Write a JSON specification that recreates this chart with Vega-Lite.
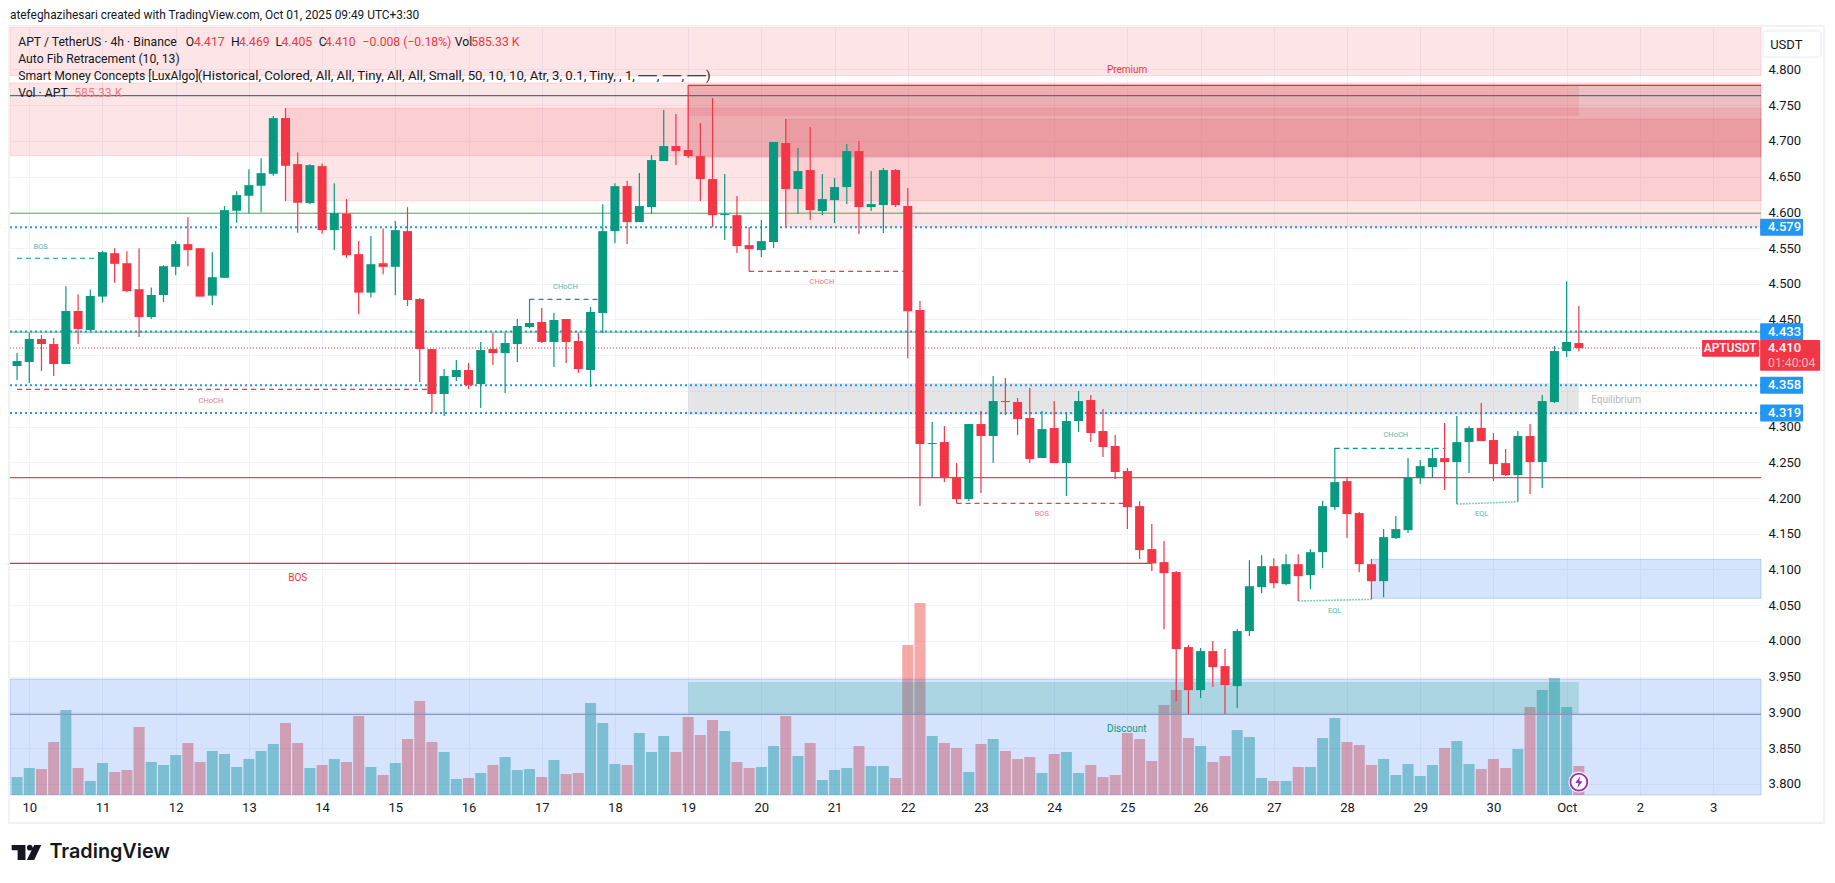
{
"$schema":"https://vega.github.io/schema/vega-lite/v6.json",
"width":1751,"height":768,
"autosize":{"type":"none"},
"padding":{"left":10,"top":27,"right":74,"bottom":88},
"background":"#ffffff",
"config":{"view":{"stroke":null},"scale":{"continuousPadding":0}},
"datasets":{
"candles":[
{"t":"2025-09-09T20:00Z","o":4.3848,"h":4.403,"l":4.3652,"c":4.3918,"v":363,"dir":"up"},
{"t":"2025-09-10T00:00Z","o":4.3904,"h":4.4311,"l":4.361,"c":4.4227,"v":545,"dir":"up"},
{"t":"2025-09-10T04:00Z","o":4.4227,"h":4.4283,"l":4.3778,"c":4.4156,"v":525,"dir":"down"},
{"t":"2025-09-10T08:00Z","o":4.4156,"h":4.4241,"l":4.3708,"c":4.3876,"v":1070,"dir":"down"},
{"t":"2025-09-10T12:00Z","o":4.3876,"h":4.4966,"l":4.3876,"c":4.4619,"v":1716,"dir":"up"},
{"t":"2025-09-10T16:00Z","o":4.4619,"h":4.4854,"l":4.4156,"c":4.4367,"v":545,"dir":"down"},
{"t":"2025-09-10T20:00Z","o":4.4353,"h":4.4919,"l":4.434,"c":4.4829,"v":283,"dir":"up"},
{"t":"2025-09-11T00:00Z","o":4.482,"h":4.5461,"l":4.4736,"c":4.5442,"v":646,"dir":"up"},
{"t":"2025-09-11T04:00Z","o":4.5428,"h":4.5498,"l":4.5013,"c":4.5279,"v":464,"dir":"down"},
{"t":"2025-09-11T08:00Z","o":4.5288,"h":4.5456,"l":4.4886,"c":4.4896,"v":505,"dir":"down"},
{"t":"2025-09-11T12:00Z","o":4.4924,"h":4.5498,"l":4.4255,"c":4.4535,"v":1373,"dir":"down"},
{"t":"2025-09-11T16:00Z","o":4.4535,"h":4.4947,"l":4.4507,"c":4.4843,"v":666,"dir":"up"},
{"t":"2025-09-11T20:00Z","o":4.4843,"h":4.526,"l":4.4745,"c":4.5246,"v":606,"dir":"up"},
{"t":"2025-09-12T00:00Z","o":4.5237,"h":4.5597,"l":4.512,"c":4.5555,"v":808,"dir":"up"},
{"t":"2025-09-12T04:00Z","o":4.5555,"h":4.5933,"l":4.5246,"c":4.5471,"v":1050,"dir":"down"},
{"t":"2025-09-12T08:00Z","o":4.5498,"h":4.5498,"l":4.482,"c":4.482,"v":666,"dir":"down"},
{"t":"2025-09-12T12:00Z","o":4.4834,"h":4.5442,"l":4.4703,"c":4.5092,"v":888,"dir":"up"},
{"t":"2025-09-12T16:00Z","o":4.5083,"h":4.6087,"l":4.5083,"c":4.6031,"v":828,"dir":"up"},
{"t":"2025-09-12T20:00Z","o":4.6022,"h":4.6297,"l":4.5853,"c":4.6241,"v":565,"dir":"up"},
{"t":"2025-09-13T00:00Z","o":4.6232,"h":4.6605,"l":4.5989,"c":4.6381,"v":727,"dir":"up"},
{"t":"2025-09-13T04:00Z","o":4.6372,"h":4.6759,"l":4.6003,"c":4.6549,"v":888,"dir":"up"},
{"t":"2025-09-13T08:00Z","o":4.654,"h":4.7348,"l":4.6512,"c":4.732,"v":1030,"dir":"up"},
{"t":"2025-09-13T12:00Z","o":4.732,"h":4.746,"l":4.6157,"c":4.6652,"v":1454,"dir":"down"},
{"t":"2025-09-13T16:00Z","o":4.6675,"h":4.6839,"l":4.5713,"c":4.6134,"v":1050,"dir":"down"},
{"t":"2025-09-13T20:00Z","o":4.6129,"h":4.6675,"l":4.6115,"c":4.6661,"v":545,"dir":"up"},
{"t":"2025-09-14T00:00Z","o":4.6647,"h":4.6685,"l":4.5699,"c":4.5751,"v":606,"dir":"down"},
{"t":"2025-09-14T04:00Z","o":4.5751,"h":4.6409,"l":4.5471,"c":4.5989,"v":727,"dir":"up"},
{"t":"2025-09-14T08:00Z","o":4.598,"h":4.6185,"l":4.5363,"c":4.54,"v":666,"dir":"down"},
{"t":"2025-09-14T12:00Z","o":4.5414,"h":4.5597,"l":4.4577,"c":4.4876,"v":1595,"dir":"down"},
{"t":"2025-09-14T16:00Z","o":4.4876,"h":4.5667,"l":4.4806,"c":4.5274,"v":565,"dir":"up"},
{"t":"2025-09-14T20:00Z","o":4.5288,"h":4.5774,"l":4.5134,"c":4.5237,"v":404,"dir":"down"},
{"t":"2025-09-15T00:00Z","o":4.5237,"h":4.5877,"l":4.484,"c":4.5751,"v":646,"dir":"up"},
{"t":"2025-09-15T04:00Z","o":4.5737,"h":4.6073,"l":4.4689,"c":4.4773,"v":1131,"dir":"down"},
{"t":"2025-09-15T08:00Z","o":4.4787,"h":4.48,"l":4.3624,"c":4.4086,"v":1898,"dir":"down"},
{"t":"2025-09-15T12:00Z","o":4.4086,"h":4.4086,"l":4.319,"c":4.3456,"v":1070,"dir":"down"},
{"t":"2025-09-15T16:00Z","o":4.3456,"h":4.3806,"l":4.3148,"c":4.3708,"v":868,"dir":"up"},
{"t":"2025-09-15T20:00Z","o":4.3694,"h":4.3932,"l":4.3638,"c":4.3792,"v":323,"dir":"up"},
{"t":"2025-09-16T00:00Z","o":4.3792,"h":4.389,"l":4.3526,"c":4.3582,"v":343,"dir":"down"},
{"t":"2025-09-16T04:00Z","o":4.3596,"h":4.4184,"l":4.326,"c":4.4072,"v":444,"dir":"up"},
{"t":"2025-09-16T08:00Z","o":4.4086,"h":4.4311,"l":4.3862,"c":4.403,"v":606,"dir":"down"},
{"t":"2025-09-16T12:00Z","o":4.403,"h":4.4311,"l":4.347,"c":4.417,"v":767,"dir":"up"},
{"t":"2025-09-16T16:00Z","o":4.4156,"h":4.4507,"l":4.3904,"c":4.4409,"v":505,"dir":"up"},
{"t":"2025-09-16T20:00Z","o":4.4395,"h":4.4787,"l":4.4381,"c":4.4451,"v":525,"dir":"up"},
{"t":"2025-09-17T00:00Z","o":4.4465,"h":4.4661,"l":4.417,"c":4.4185,"v":363,"dir":"down"},
{"t":"2025-09-17T04:00Z","o":4.4185,"h":4.4591,"l":4.3834,"c":4.4493,"v":707,"dir":"up"},
{"t":"2025-09-17T08:00Z","o":4.4507,"h":4.4507,"l":4.389,"c":4.4185,"v":424,"dir":"down"},
{"t":"2025-09-17T12:00Z","o":4.4199,"h":4.4311,"l":4.375,"c":4.3806,"v":444,"dir":"down"},
{"t":"2025-09-17T16:00Z","o":4.3792,"h":4.4675,"l":4.3554,"c":4.4605,"v":1857,"dir":"up"},
{"t":"2025-09-17T20:00Z","o":4.4591,"h":4.6115,"l":4.4311,"c":4.5737,"v":1454,"dir":"up"},
{"t":"2025-09-18T00:00Z","o":4.5737,"h":4.6409,"l":4.5568,"c":4.6367,"v":626,"dir":"up"},
{"t":"2025-09-18T04:00Z","o":4.6368,"h":4.6438,"l":4.5555,"c":4.5863,"v":606,"dir":"down"},
{"t":"2025-09-18T08:00Z","o":4.5863,"h":4.655,"l":4.5863,"c":4.6088,"v":1252,"dir":"up"},
{"t":"2025-09-18T12:00Z","o":4.6074,"h":4.6802,"l":4.598,"c":4.6732,"v":868,"dir":"up"},
{"t":"2025-09-18T16:00Z","o":4.6718,"h":4.7433,"l":4.6718,"c":4.6928,"v":1191,"dir":"up"},
{"t":"2025-09-18T20:00Z","o":4.6928,"h":4.7376,"l":4.6662,"c":4.6858,"v":868,"dir":"down"},
{"t":"2025-09-19T00:00Z","o":4.6872,"h":4.7778,"l":4.676,"c":4.6788,"v":1575,"dir":"down"},
{"t":"2025-09-19T04:00Z","o":4.6788,"h":4.725,"l":4.6158,"c":4.6466,"v":1211,"dir":"down"},
{"t":"2025-09-19T08:00Z","o":4.6466,"h":4.7601,"l":4.5793,"c":4.5961,"v":1514,"dir":"down"},
{"t":"2025-09-19T12:00Z","o":4.5961,"h":4.6536,"l":4.5611,"c":4.598,"v":1292,"dir":"up"},
{"t":"2025-09-19T16:00Z","o":4.5961,"h":4.6228,"l":4.5429,"c":4.5527,"v":666,"dir":"down"},
{"t":"2025-09-19T20:00Z","o":4.5541,"h":4.5793,"l":4.5172,"c":4.5485,"v":545,"dir":"down"},
{"t":"2025-09-20T00:00Z","o":4.5471,"h":4.5891,"l":4.5373,"c":4.5597,"v":565,"dir":"up"},
{"t":"2025-09-20T04:00Z","o":4.5583,"h":4.6984,"l":4.5499,"c":4.6984,"v":989,"dir":"up"},
{"t":"2025-09-20T08:00Z","o":4.697,"h":4.7306,"l":4.5793,"c":4.6326,"v":1595,"dir":"down"},
{"t":"2025-09-20T12:00Z","o":4.6326,"h":4.69,"l":4.598,"c":4.6578,"v":787,"dir":"up"},
{"t":"2025-09-20T16:00Z","o":4.6592,"h":4.7194,"l":4.5891,"c":4.6032,"v":1050,"dir":"down"},
{"t":"2025-09-20T20:00Z","o":4.6018,"h":4.6536,"l":4.5961,"c":4.6186,"v":303,"dir":"up"},
{"t":"2025-09-21T00:00Z","o":4.6172,"h":4.648,"l":4.5849,"c":4.6354,"v":505,"dir":"up"},
{"t":"2025-09-21T04:00Z","o":4.6354,"h":4.6956,"l":4.6116,"c":4.6858,"v":545,"dir":"up"},
{"t":"2025-09-21T08:00Z","o":4.6858,"h":4.6998,"l":4.5695,"c":4.6074,"v":989,"dir":"down"},
{"t":"2025-09-21T12:00Z","o":4.6074,"h":4.6578,"l":4.6018,"c":4.6116,"v":585,"dir":"up"},
{"t":"2025-09-21T16:00Z","o":4.6102,"h":4.662,"l":4.5709,"c":4.6592,"v":585,"dir":"up"},
{"t":"2025-09-21T20:00Z","o":4.6592,"h":4.6606,"l":4.6074,"c":4.6102,"v":343,"dir":"down"},
{"t":"2025-09-22T00:00Z","o":4.6088,"h":4.634,"l":4.3958,"c":4.4616,"v":3029,"dir":"down"},
{"t":"2025-09-22T04:00Z","o":4.4631,"h":4.4757,"l":4.1887,"c":4.2756,"v":3876,"dir":"down"},
{"t":"2025-09-22T08:00Z","o":4.2756,"h":4.3064,"l":4.2289,"c":4.277,"v":1191,"dir":"up"},
{"t":"2025-09-22T12:00Z","o":4.2784,"h":4.3008,"l":4.2224,"c":4.2289,"v":1050,"dir":"down"},
{"t":"2025-09-22T16:00Z","o":4.2289,"h":4.249,"l":4.1925,"c":4.1985,"v":949,"dir":"down"},
{"t":"2025-09-22T20:00Z","o":4.1985,"h":4.3036,"l":4.1957,"c":4.3036,"v":464,"dir":"up"},
{"t":"2025-09-23T00:00Z","o":4.3036,"h":4.3218,"l":4.2069,"c":4.2868,"v":1030,"dir":"down"},
{"t":"2025-09-23T04:00Z","o":4.2868,"h":4.3709,"l":4.249,"c":4.3358,"v":1131,"dir":"up"},
{"t":"2025-09-23T08:00Z","o":4.3358,"h":4.3681,"l":4.3162,"c":4.3344,"v":888,"dir":"down"},
{"t":"2025-09-23T12:00Z","o":4.3344,"h":4.34,"l":4.2882,"c":4.3106,"v":727,"dir":"down"},
{"t":"2025-09-23T16:00Z","o":4.312,"h":4.354,"l":4.249,"c":4.2546,"v":767,"dir":"down"},
{"t":"2025-09-23T20:00Z","o":4.256,"h":4.3218,"l":4.256,"c":4.2966,"v":444,"dir":"up"},
{"t":"2025-09-24T00:00Z","o":4.298,"h":4.3358,"l":4.249,"c":4.249,"v":828,"dir":"down"},
{"t":"2025-09-24T04:00Z","o":4.249,"h":4.319,"l":4.2027,"c":4.3078,"v":868,"dir":"up"},
{"t":"2025-09-24T08:00Z","o":4.3078,"h":4.3498,"l":4.2924,"c":4.3358,"v":444,"dir":"up"},
{"t":"2025-09-24T12:00Z","o":4.3372,"h":4.3442,"l":4.2784,"c":4.291,"v":606,"dir":"down"},
{"t":"2025-09-24T16:00Z","o":4.2938,"h":4.3246,"l":4.2574,"c":4.2714,"v":363,"dir":"down"},
{"t":"2025-09-24T20:00Z","o":4.2728,"h":4.2882,"l":4.2266,"c":4.2364,"v":404,"dir":"down"},
{"t":"2025-09-25T00:00Z","o":4.2378,"h":4.242,"l":4.1565,"c":4.1873,"v":1252,"dir":"down"},
{"t":"2025-09-25T04:00Z","o":4.1887,"h":4.1957,"l":4.1145,"c":4.1271,"v":1131,"dir":"down"},
{"t":"2025-09-25T08:00Z","o":4.1285,"h":4.1635,"l":4.0977,"c":4.1084,"v":686,"dir":"down"},
{"t":"2025-09-25T12:00Z","o":4.1103,"h":4.1397,"l":4.0164,"c":4.0949,"v":1817,"dir":"down"},
{"t":"2025-09-25T16:00Z","o":4.0963,"h":4.0977,"l":3.9157,"c":3.9885,"v":2120,"dir":"down"},
{"t":"2025-09-25T20:00Z","o":3.9913,"h":3.9941,"l":3.8975,"c":3.9311,"v":1151,"dir":"down"},
{"t":"2025-09-26T00:00Z","o":3.9311,"h":3.9899,"l":3.9199,"c":3.9857,"v":989,"dir":"up"},
{"t":"2025-09-26T04:00Z","o":3.9857,"h":3.9997,"l":3.9353,"c":3.9633,"v":666,"dir":"down"},
{"t":"2025-09-26T08:00Z","o":3.9647,"h":3.9885,"l":3.8975,"c":3.9381,"v":787,"dir":"down"},
{"t":"2025-09-26T12:00Z","o":3.9367,"h":4.0166,"l":3.9059,"c":4.0138,"v":1312,"dir":"up"},
{"t":"2025-09-26T16:00Z","o":4.0138,"h":4.113,"l":4.0068,"c":4.0766,"v":1171,"dir":"up"},
{"t":"2025-09-26T20:00Z","o":4.0752,"h":4.12,"l":4.0668,"c":4.1046,"v":343,"dir":"up"},
{"t":"2025-09-27T00:00Z","o":4.1046,"h":4.1158,"l":4.0738,"c":4.0808,"v":283,"dir":"down"},
{"t":"2025-09-27T04:00Z","o":4.0794,"h":4.1214,"l":4.078,"c":4.1074,"v":283,"dir":"up"},
{"t":"2025-09-27T08:00Z","o":4.1074,"h":4.1214,"l":4.0558,"c":4.0906,"v":565,"dir":"down"},
{"t":"2025-09-27T12:00Z","o":4.092,"h":4.1284,"l":4.0724,"c":4.1242,"v":565,"dir":"up"},
{"t":"2025-09-27T16:00Z","o":4.1242,"h":4.1957,"l":4.1018,"c":4.1887,"v":1151,"dir":"up"},
{"t":"2025-09-27T20:00Z","o":4.1873,"h":4.2699,"l":4.1831,"c":4.2223,"v":1555,"dir":"up"},
{"t":"2025-09-28T00:00Z","o":4.2237,"h":4.2279,"l":4.1439,"c":4.1775,"v":1070,"dir":"down"},
{"t":"2025-09-28T04:00Z","o":4.1789,"h":4.1803,"l":4.0962,"c":4.1074,"v":1010,"dir":"down"},
{"t":"2025-09-28T08:00Z","o":4.1074,"h":4.1144,"l":4.0581,"c":4.0836,"v":606,"dir":"down"},
{"t":"2025-09-28T12:00Z","o":4.0836,"h":4.1565,"l":4.0612,"c":4.1453,"v":727,"dir":"up"},
{"t":"2025-09-28T16:00Z","o":4.1439,"h":4.1747,"l":4.1425,"c":4.1565,"v":404,"dir":"up"},
{"t":"2025-09-28T20:00Z","o":4.1551,"h":4.2559,"l":4.1509,"c":4.2293,"v":626,"dir":"up"},
{"t":"2025-09-29T00:00Z","o":4.2279,"h":4.2531,"l":4.2195,"c":4.2447,"v":384,"dir":"up"},
{"t":"2025-09-29T04:00Z","o":4.2433,"h":4.2699,"l":4.2279,"c":4.2559,"v":606,"dir":"up"},
{"t":"2025-09-29T08:00Z","o":4.2559,"h":4.305,"l":4.2111,"c":4.2503,"v":949,"dir":"down"},
{"t":"2025-09-29T12:00Z","o":4.2503,"h":4.3148,"l":4.1915,"c":4.2783,"v":1090,"dir":"up"},
{"t":"2025-09-29T16:00Z","o":4.2783,"h":4.3008,"l":4.2349,"c":4.298,"v":626,"dir":"up"},
{"t":"2025-09-29T20:00Z","o":4.298,"h":4.333,"l":4.2798,"c":4.2798,"v":525,"dir":"down"},
{"t":"2025-09-30T00:00Z","o":4.2812,"h":4.291,"l":4.2237,"c":4.2475,"v":727,"dir":"down"},
{"t":"2025-09-30T04:00Z","o":4.2489,"h":4.2686,"l":4.2307,"c":4.2321,"v":545,"dir":"down"},
{"t":"2025-09-30T08:00Z","o":4.2321,"h":4.2938,"l":4.1948,"c":4.2868,"v":929,"dir":"up"},
{"t":"2025-09-30T12:00Z","o":4.2868,"h":4.3036,"l":4.2055,"c":4.2503,"v":1777,"dir":"down"},
{"t":"2025-09-30T16:00Z","o":4.2503,"h":4.3442,"l":4.2139,"c":4.3358,"v":2120,"dir":"up"},
{"t":"2025-09-30T20:00Z","o":4.3344,"h":4.4128,"l":4.333,"c":4.4058,"v":2362,"dir":"up"},
{"t":"2025-10-01T00:00Z","o":4.4058,"h":4.5036,"l":4.3974,"c":4.4185,"v":1777,"dir":"up"},
{"t":"2025-10-01T04:00Z","o":4.417,"h":4.469,"l":4.405,"c":4.41,"v":585.33,"dir":"down"}
],
"zones":[
{"t0":"2025-09-09T17:41Z","t1":"2025-10-03T15:43Z","p0":4.7913,"p1":4.8595,"zone":"premium"},
{"t0":"2025-09-09T17:41Z","t1":"2025-10-03T15:43Z","p0":4.6793,"p1":4.7811,"zone":"premium"},
{"t0":"2025-09-13T12:00Z","t1":"2025-10-03T15:43Z","p0":4.6163,"p1":4.7457,"zone":"premium"},
{"t0":"2025-09-20T08:00Z","t1":"2025-10-03T15:43Z","p0":4.5799,"p1":4.7303,"zone":"premium"},
{"t0":"2025-09-19T00:00Z","t1":"2025-10-03T15:43Z","p0":4.6773,"p1":4.7779,"zone":"breaker"},
{"t0":"2025-09-19T00:00Z","t1":"2025-10-01T04:00Z","p0":4.7349,"p1":4.7769,"zone":"swing"},
{"t0":"2025-09-19T00:00Z","t1":"2025-10-01T04:00Z","p0":4.3166,"p1":4.3606,"zone":"equilibrium"},
{"t0":"2025-09-09T17:41Z","t1":"2025-10-03T15:43Z","p0":3.7842,"p1":3.9465,"zone":"discount"},
{"t0":"2025-09-28T08:00Z","t1":"2025-10-03T15:43Z","p0":4.0596,"p1":4.1142,"zone":"discount"},
{"t0":"2025-09-19T00:00Z","t1":"2025-10-01T04:00Z","p0":3.8972,"p1":3.9424,"zone":"demand"}
],
"fibs":[
{"t0":"2025-09-09T17:41Z","t1":"2025-10-03T15:43Z","p":4.7633,"line":"fib618"},
{"t0":"2025-09-09T17:41Z","t1":"2025-10-03T15:43Z","p":4.5987,"line":"fib500"},
{"t0":"2025-09-09T17:41Z","t1":"2025-10-03T15:43Z","p":4.4323,"line":"fib382"},
{"t0":"2025-09-09T17:41Z","t1":"2025-10-03T15:43Z","p":4.2285,"line":"fib236"},
{"t0":"2025-09-09T17:41Z","t1":"2025-10-03T15:43Z","p":3.8972,"line":"fib0"},
{"t0":"2025-09-19T00:00Z","t1":"2025-10-03T15:43Z","p":4.7779,"line":"high"},
{"t0":"2025-09-09T17:41Z","t1":"2025-09-25T08:00Z","p":4.1086,"line":"high"}
],
"levels":[
{"t0":"2025-09-09T17:41Z","t1":"2025-10-03T15:43Z","p":4.579},
{"t0":"2025-09-09T17:41Z","t1":"2025-10-03T15:43Z","p":4.433},
{"t0":"2025-09-09T17:41Z","t1":"2025-10-03T15:43Z","p":4.358},
{"t0":"2025-09-09T17:41Z","t1":"2025-10-03T15:43Z","p":4.319}
],
"lastPrice":[{"t0":"2025-09-09T17:41Z","t1":"2025-10-03T15:43Z","p":4.41}],
"structure":[
{"t0":"2025-09-09T20:00Z","t1":"2025-09-10T22:00Z","p":4.5357,"dir":"up"},
{"t0":"2025-09-09T20:00Z","t1":"2025-09-15T12:00Z","p":4.3522,"dir":"down"},
{"t0":"2025-09-16T20:00Z","t1":"2025-09-17T20:00Z","p":4.4782,"dir":"up"},
{"t0":"2025-09-19T20:00Z","t1":"2025-09-22T00:00Z","p":4.5174,"dir":"down"},
{"t0":"2025-09-22T16:00Z","t1":"2025-09-25T00:00Z","p":4.1926,"dir":"down"},
{"t0":"2025-09-27T20:00Z","t1":"2025-09-29T08:00Z","p":4.2696,"dir":"up"}
],
"equalLows":[
{"t0":"2025-09-27T08:00Z","t1":"2025-09-28T08:00Z","p0":4.0558,"p1":4.0581},
{"t0":"2025-09-29T12:00Z","t1":"2025-09-30T08:00Z","p0":4.1915,"p1":4.1948}
],
"tags":[
{"t":"2025-09-10T03:44Z","p":4.5519,"label":"BOS","dir":"up"},
{"t":"2025-09-12T11:34Z","p":4.3354,"label":"CHoCH","dir":"down"},
{"t":"2025-09-17T07:46Z","p":4.495,"label":"CHoCH","dir":"up"},
{"t":"2025-09-20T19:52Z","p":4.502,"label":"CHoCH","dir":"down"},
{"t":"2025-09-23T19:56Z","p":4.1772,"label":"BOS","dir":"down"},
{"t":"2025-09-28T16:00Z","p":4.2878,"label":"CHoCH","dir":"up"},
{"t":"2025-09-27T19:56Z","p":4.0423,"label":"EQL","dir":"up"},
{"t":"2025-09-29T20:10Z","p":4.1779,"label":"EQL","dir":"up"}
],
"zoneLabels":[
{"t":"2025-09-13T16:00Z","p":4.0876,"label":"BOS","tone":"red"},
{"t":"2025-09-24T23:54Z","p":4.7993,"label":"Premium","tone":"red"},
{"t":"2025-10-01T16:12Z","p":4.3377,"label":"Equilibrium","tone":"grey"},
{"t":"2025-09-24T23:48Z","p":3.8771,"label":"Discount","tone":"teal"}
],
"header":[
{"t":"2025-09-09T17:40Z","p":4.8763,"label":"atefeghazihesari created with TradingView.com, Oct 01, 2025 09:49 UTC+3:30"}
],
"legend":[
{"t":"2025-09-09T20:22Z","p":4.8389,"label":"APT / TetherUS · 4h · Binance","tone":"ink"},
{"t":"2025-09-12T03:18Z","p":4.8389,"label":"O","tone":"ink"},
{"t":"2025-09-12T06:00Z","p":4.8389,"label":"4.417","tone":"down"},
{"t":"2025-09-12T18:08Z","p":4.8389,"label":"H","tone":"ink"},
{"t":"2025-09-12T20:45Z","p":4.8389,"label":"4.469","tone":"down"},
{"t":"2025-09-13T08:45Z","p":4.8389,"label":"L","tone":"ink"},
{"t":"2025-09-13T10:41Z","p":4.8389,"label":"4.405","tone":"down"},
{"t":"2025-09-13T22:53Z","p":4.8389,"label":"C","tone":"ink"},
{"t":"2025-09-14T00:57Z","p":4.8389,"label":"4.410","tone":"down"},
{"t":"2025-09-14T13:17Z","p":4.8389,"label":"−0.008 (−0.18%)","tone":"down"},
{"t":"2025-09-15T19:28Z","p":4.8389,"label":"Vol","tone":"ink"},
{"t":"2025-09-16T00:55Z","p":4.8389,"label":"585.33 K","tone":"down"},
{"t":"2025-09-09T20:22Z","p":4.8147,"label":"Auto Fib Retracement (10, 13)","tone":"ink"},
{"t":"2025-09-09T20:22Z","p":4.7909,"label":"Smart Money Concepts [LuxAlgo]","tone":"ink"},
{"t":"2025-09-09T20:22Z","p":4.7675,"label":"Vol · APT","tone":"ink"},
{"t":"2025-09-10T14:45Z","p":4.7675,"label":"585.33 K","tone":"soft"}
],
"inputs":[
{"t":"2025-09-12T07:15Z","p":4.7909,"label":"(Historical, Colored, All, All, Tiny, All, All, Small, 50, 10, 10, Atr, 3, 0.1, Tiny, , 1, ──, ──, ──)"}
],
"badges":[
{"t0":"2025-10-03T15:26Z","t1":"2025-10-04T05:31Z","lo":4.5671,"hi":4.5909,"kind":"level"},
{"t0":"2025-10-03T15:26Z","t1":"2025-10-04T05:31Z","lo":4.421,"hi":4.4448,"kind":"level"},
{"t0":"2025-10-03T15:26Z","t1":"2025-10-04T05:31Z","lo":4.3461,"hi":4.3699,"kind":"level"},
{"t0":"2025-10-03T15:26Z","t1":"2025-10-04T05:31Z","lo":4.3071,"hi":4.3309,"kind":"level"},
{"t0":"2025-10-03T15:26Z","t1":"2025-10-04T11:06Z","lo":4.3783,"hi":4.4213,"kind":"last"},
{"t0":"2025-10-02T20:24Z","t1":"2025-10-03T15:06Z","lo":4.3979,"hi":4.4213,"kind":"last"}
],
"scaleText":[
{"t":"2025-10-03T18:00Z","p":4.579,"label":"4.579"},
{"t":"2025-10-03T18:00Z","p":4.4329,"label":"4.433"},
{"t":"2025-10-03T18:00Z","p":4.358,"label":"4.358"},
{"t":"2025-10-03T18:00Z","p":4.319,"label":"4.319"},
{"t":"2025-10-03T18:00Z","p":4.4095,"label":"4.410"}
],
"countdown":[{"t":"2025-10-03T18:00Z","p":4.3895,"label":"01:40:04"}],
"symbolTag":[{"t":"2025-10-03T05:36Z","p":4.4095,"label":"APTUSDT"}],
"unitBox":[{"t0":"2025-10-03T16:24Z","t1":"2025-10-04T11:24Z","p0":4.8171,"p1":4.8543}],
"unitText":[{"t":"2025-10-04T00:00Z","p":4.8347,"label":"USDT"}],
"frame":[{"t0":"2025-09-09T17:20Z","t1":"2025-10-04T12:24Z","p0":3.7451,"p1":4.8609}],
"logoMark":[{"t":"2025-09-09T23:05Z","p":3.7037}],
"logoText":[{"t":"2025-09-10T06:36Z","p":3.7037,"label":"TradingView"}],
"lightning":[{"t":"2025-10-01T04:00Z","p":3.8023}]
},
"resolve":{"scale":{"y":"independent","color":"independent"}},
"layer":[
{
"data":{"name":"candles"},
"mark":{"type":"bar","size":11},
"encoding":{
"x":{"field":"t","type":"temporal","scale":{"type":"utc","domain":["2025-09-09T17:41Z","2025-10-03T15:43Z"]},
"axis":{"title":null,"orient":"bottom","tickCount":{"interval":"day","step":1},"labelExpr":"utcdate(datum.value)==1?'Oct':''+utcdate(datum.value)","grid":true,"gridColor":"#f0f3fa","gridWidth":1,"domain":false,"ticks":false,"labelFont":"Roboto","labelFontSize":13,"labelColor":"#131722","labelPadding":6,"labelOverlap":false,"labelFlush":false}},
"y":{"field":"v","type":"quantitative","stack":null,"scale":{"domain":[0,15506],"nice":false,"zero":true},"axis":null},
"color":{"field":"dir","type":"nominal","scale":{"domain":["up","down"],"range":["#26a69a","#ef5350"]},"legend":null},
"opacity":{"value":0.5}
}
},
{
"resolve":{"scale":{"color":"independent"}},
"layer":[
{
"data":{"name":"zones"},
"mark":{"type":"rect","strokeWidth":1},
"encoding":{
"x":{"field":"t0","type":"temporal","scale":{"type":"utc","domain":["2025-09-09T17:41Z","2025-10-03T15:43Z"]}},
"x2":{"field":"t1"},
"y":{"field":"p0","type":"quantitative","scale":{"domain":[3.7842,4.8595],"nice":false,"zero":false},
"axis":{"title":null,"orient":"right","values":[3.8,3.85,3.9,3.95,4.0,4.05,4.1,4.15,4.2,4.25,4.3,4.35,4.4,4.45,4.5,4.55,4.6,4.65,4.7,4.75,4.8],"tickCount":21,"labelExpr":"indexof(['4.35','4.40'],format(datum.value,'.2f'))>=0?'':format(datum.value,'.3f')","labelSeparation":0,"labelBound":false,"grid":true,"gridColor":"#f0f3fa","gridWidth":1,"domain":false,"ticks":false,"labelFont":"Roboto","labelFontSize":13,"labelColor":"#131722","labelPadding":7,"labelOverlap":false}},
"y2":{"field":"p1"},
"color":{"field":"zone","type":"nominal","legend":null,"scale":{"domain":["premium","breaker","swing","equilibrium","discount","demand"],"range":["rgba(242,54,69,0.13)","rgba(178,40,51,0.2)","rgba(242,54,69,0.13)","rgba(120,123,134,0.2)","rgba(33,110,240,0.19)","rgba(8,153,129,0.2)"]}},
"stroke":{"field":"zone","type":"nominal","legend":null,"scale":{"domain":["premium","breaker","swing","equilibrium","discount","demand"],"range":["rgba(242,54,69,0.15)","rgba(178,40,51,0.15)","rgba(0,0,0,0)","rgba(0,0,0,0)","rgba(33,110,240,0.25)","rgba(0,0,0,0)"]}}
}
},
{
"data":{"name":"fibs"},
"mark":{"type":"rule","strokeWidth":1.2},
"encoding":{
"x":{"field":"t0","type":"temporal","scale":{"type":"utc","domain":["2025-09-09T17:41Z","2025-10-03T15:43Z"]}},
"x2":{"field":"t1"},
"y":{"field":"p","type":"quantitative","scale":{"domain":[3.7842,4.8595],"nice":false,"zero":false}},
"color":{"field":"line","type":"nominal","legend":null,"scale":{"domain":["fib618","fib500","fib382","fib236","fib0","high"],"range":["#1f8a78","#4caf50","#81c784","#f44336","#8b93b8","#e0303f"]}}
}
},
{
"data":{"name":"levels"},
"mark":{"type":"rule","strokeWidth":2,"strokeDash":[2,3],"color":"#2196f3"},
"encoding":{
"x":{"field":"t0","type":"temporal","scale":{"type":"utc","domain":["2025-09-09T17:41Z","2025-10-03T15:43Z"]}},
"x2":{"field":"t1"},
"y":{"field":"p","type":"quantitative","scale":{"domain":[3.7842,4.8595],"nice":false,"zero":false}}
}
},
{
"data":{"name":"lastPrice"},
"mark":{"type":"rule","strokeWidth":1,"strokeDash":[1,2],"color":"#f23645"},
"encoding":{
"x":{"field":"t0","type":"temporal","scale":{"type":"utc","domain":["2025-09-09T17:41Z","2025-10-03T15:43Z"]}},
"x2":{"field":"t1"},
"y":{"field":"p","type":"quantitative","scale":{"domain":[3.7842,4.8595],"nice":false,"zero":false}}
}
},
{
"data":{"name":"structure"},
"mark":{"type":"rule","strokeWidth":1.2,"strokeDash":[5,4]},
"encoding":{
"x":{"field":"t0","type":"temporal","scale":{"type":"utc","domain":["2025-09-09T17:41Z","2025-10-03T15:43Z"]}},
"x2":{"field":"t1"},
"y":{"field":"p","type":"quantitative","scale":{"domain":[3.7842,4.8595],"nice":false,"zero":false}},
"color":{"field":"dir","type":"nominal","legend":null,"scale":{"domain":["up","down"],"range":["#089981","#f23645"]}}
}
},
{
"data":{"name":"equalLows"},
"mark":{"type":"rule","strokeWidth":1.6,"strokeDash":[2,1],"color":"#7fcdbd"},
"encoding":{
"x":{"field":"t0","type":"temporal","scale":{"type":"utc","domain":["2025-09-09T17:41Z","2025-10-03T15:43Z"]}},
"x2":{"field":"t1"},
"y":{"field":"p0","type":"quantitative","scale":{"domain":[3.7842,4.8595],"nice":false,"zero":false}},
"y2":{"field":"p1"}
}
},
{
"data":{"name":"candles"},
"mark":{"type":"rule","strokeWidth":1.2},
"encoding":{
"x":{"field":"t","type":"temporal","scale":{"type":"utc","domain":["2025-09-09T17:41Z","2025-10-03T15:43Z"]}},
"y":{"field":"l","type":"quantitative","scale":{"domain":[3.7842,4.8595],"nice":false,"zero":false}},
"y2":{"field":"h"},
"color":{"field":"dir","type":"nominal","legend":null,"scale":{"domain":["up","down"],"range":["#089981","#f23645"]}}
}
},
{
"data":{"name":"candles"},
"mark":{"type":"bar","size":9},
"encoding":{
"x":{"field":"t","type":"temporal","scale":{"type":"utc","domain":["2025-09-09T17:41Z","2025-10-03T15:43Z"]}},
"y":{"field":"o","type":"quantitative","scale":{"domain":[3.7842,4.8595],"nice":false,"zero":false}},
"y2":{"field":"c"},
"color":{"field":"dir","type":"nominal","legend":null,"scale":{"domain":["up","down"],"range":["#089981","#f23645"]}}
}
},
{
"data":{"name":"tags"},
"mark":{"type":"text","font":"Roboto","fontSize":7.5,"align":"center","baseline":"middle","opacity":0.7},
"encoding":{
"x":{"field":"t","type":"temporal","scale":{"type":"utc","domain":["2025-09-09T17:41Z","2025-10-03T15:43Z"]}},
"y":{"field":"p","type":"quantitative","scale":{"domain":[3.7842,4.8595],"nice":false,"zero":false}},
"text":{"field":"label"},
"color":{"field":"dir","type":"nominal","legend":null,"scale":{"domain":["up","down"],"range":["#089981","#f23645"]}}
}
},
{
"data":{"name":"zoneLabels"},
"mark":{"type":"text","font":"Roboto","fontSize":10,"align":"center","baseline":"middle"},
"encoding":{
"x":{"field":"t","type":"temporal","scale":{"type":"utc","domain":["2025-09-09T17:41Z","2025-10-03T15:43Z"]}},
"y":{"field":"p","type":"quantitative","scale":{"domain":[3.7842,4.8595],"nice":false,"zero":false}},
"text":{"field":"label"},
"color":{"field":"tone","type":"nominal","legend":null,"scale":{"domain":["red","grey","teal"],"range":["#f23645","#b2b5be","#089981"]}}
}
},
{
"data":{"name":"header"},
"mark":{"type":"text","font":"Roboto","fontSize":11.9,"align":"left","baseline":"middle","color":"#131722"},
"encoding":{
"x":{"field":"t","type":"temporal","scale":{"type":"utc","domain":["2025-09-09T17:41Z","2025-10-03T15:43Z"]}},
"y":{"field":"p","type":"quantitative","scale":{"domain":[3.7842,4.8595],"nice":false,"zero":false}},
"text":{"field":"label"}
}
},
{
"data":{"name":"legend"},
"mark":{"type":"text","font":"Roboto","fontSize":12.2,"align":"left","baseline":"middle"},
"encoding":{
"x":{"field":"t","type":"temporal","scale":{"type":"utc","domain":["2025-09-09T17:41Z","2025-10-03T15:43Z"]}},
"y":{"field":"p","type":"quantitative","scale":{"domain":[3.7842,4.8595],"nice":false,"zero":false}},
"text":{"field":"label"},
"color":{"field":"tone","type":"nominal","legend":null,"scale":{"domain":["ink","down","soft"],"range":["#131722","#f23645","#f77c80"]}}
}
},
{
"data":{"name":"inputs"},
"mark":{"type":"text","font":"Roboto","fontSize":13.2,"align":"left","baseline":"middle","color":"#131722"},
"encoding":{
"x":{"field":"t","type":"temporal","scale":{"type":"utc","domain":["2025-09-09T17:41Z","2025-10-03T15:43Z"]}},
"y":{"field":"p","type":"quantitative","scale":{"domain":[3.7842,4.8595],"nice":false,"zero":false}},
"text":{"field":"label"}
}
},
{
"data":{"name":"badges"},
"mark":{"type":"rect","cornerRadius":1},
"encoding":{
"x":{"field":"t0","type":"temporal","scale":{"type":"utc","domain":["2025-09-09T17:41Z","2025-10-03T15:43Z"]}},
"x2":{"field":"t1"},
"y":{"field":"lo","type":"quantitative","scale":{"domain":[3.7842,4.8595],"nice":false,"zero":false}},
"y2":{"field":"hi"},
"color":{"field":"kind","type":"nominal","legend":null,"scale":{"domain":["level","last"],"range":["#2196f3","#f23645"]}}
}
},
{
"data":{"name":"scaleText"},
"mark":{"type":"text","font":"Roboto","fontSize":13,"fontWeight":500,"align":"left","baseline":"middle","color":"#ffffff"},
"encoding":{
"x":{"field":"t","type":"temporal","scale":{"type":"utc","domain":["2025-09-09T17:41Z","2025-10-03T15:43Z"]}},
"y":{"field":"p","type":"quantitative","scale":{"domain":[3.7842,4.8595],"nice":false,"zero":false}},
"text":{"field":"label"}
}
},
{
"data":{"name":"countdown"},
"mark":{"type":"text","font":"Roboto","fontSize":12.3,"align":"left","baseline":"middle","color":"#fbb6bb"},
"encoding":{
"x":{"field":"t","type":"temporal","scale":{"type":"utc","domain":["2025-09-09T17:41Z","2025-10-03T15:43Z"]}},
"y":{"field":"p","type":"quantitative","scale":{"domain":[3.7842,4.8595],"nice":false,"zero":false}},
"text":{"field":"label"}
}
},
{
"data":{"name":"symbolTag"},
"mark":{"type":"text","font":"Roboto","fontSize":12,"fontWeight":500,"align":"center","baseline":"middle","color":"#ffffff"},
"encoding":{
"x":{"field":"t","type":"temporal","scale":{"type":"utc","domain":["2025-09-09T17:41Z","2025-10-03T15:43Z"]}},
"y":{"field":"p","type":"quantitative","scale":{"domain":[3.7842,4.8595],"nice":false,"zero":false}},
"text":{"field":"label"}
}
},
{
"data":{"name":"unitBox"},
"mark":{"type":"rect","fill":"#ffffff","stroke":"#f0f3fa","strokeWidth":2,"cornerRadius":4},
"encoding":{
"x":{"field":"t0","type":"temporal","scale":{"type":"utc","domain":["2025-09-09T17:41Z","2025-10-03T15:43Z"]}},
"x2":{"field":"t1"},
"y":{"field":"p0","type":"quantitative","scale":{"domain":[3.7842,4.8595],"nice":false,"zero":false}},
"y2":{"field":"p1"}
}
},
{
"data":{"name":"unitText"},
"mark":{"type":"text","font":"Roboto","fontSize":13,"align":"center","baseline":"middle","color":"#131722"},
"encoding":{
"x":{"field":"t","type":"temporal","scale":{"type":"utc","domain":["2025-09-09T17:41Z","2025-10-03T15:43Z"]}},
"y":{"field":"p","type":"quantitative","scale":{"domain":[3.7842,4.8595],"nice":false,"zero":false}},
"text":{"field":"label"}
}
},
{
"data":{"name":"frame"},
"mark":{"type":"rect","fill":"transparent","stroke":"#f2f2f2","strokeWidth":2},
"encoding":{
"x":{"field":"t0","type":"temporal","scale":{"type":"utc","domain":["2025-09-09T17:41Z","2025-10-03T15:43Z"]}},
"x2":{"field":"t1"},
"y":{"field":"p0","type":"quantitative","scale":{"domain":[3.7842,4.8595],"nice":false,"zero":false}},
"y2":{"field":"p1"}
}
},
{
"data":{"name":"logoMark"},
"mark":{"type":"point","filled":true,"opacity":1,"color":"#131722","size":841,"shape":"M-1.02 -.52H-.07V.52H-.61V-.15H-1.02ZM.43 -.33A.2 .2 0 1 1 .03 -.33A.2 .2 0 1 1 .43 -.33ZM.53 -.52H1.02L.53 .52H.03Z"},
"encoding":{
"x":{"field":"t","type":"temporal","scale":{"type":"utc","domain":["2025-09-09T17:41Z","2025-10-03T15:43Z"]}},
"y":{"field":"p","type":"quantitative","scale":{"domain":[3.7842,4.8595],"nice":false,"zero":false}}
}
},
{
"data":{"name":"logoText"},
"mark":{"type":"text","font":"Inter","fontSize":19.8,"fontWeight":600,"align":"left","baseline":"middle","color":"#131722"},
"encoding":{
"x":{"field":"t","type":"temporal","scale":{"type":"utc","domain":["2025-09-09T17:41Z","2025-10-03T15:43Z"]}},
"y":{"field":"p","type":"quantitative","scale":{"domain":[3.7842,4.8595],"nice":false,"zero":false}},
"text":{"field":"label"}
}
},
{
"data":{"name":"lightning"},
"mark":{"type":"point","shape":"circle","filled":true,"opacity":1,"color":"#ffffff","size":441},
"encoding":{
"x":{"field":"t","type":"temporal","scale":{"type":"utc","domain":["2025-09-09T17:41Z","2025-10-03T15:43Z"]}},
"y":{"field":"p","type":"quantitative","scale":{"domain":[3.7842,4.8595],"nice":false,"zero":false}}
}
},
{
"data":{"name":"lightning"},
"mark":{"type":"point","shape":"circle","filled":false,"opacity":1,"stroke":"#9c27b0","strokeWidth":1.8,"size":289},
"encoding":{
"x":{"field":"t","type":"temporal","scale":{"type":"utc","domain":["2025-09-09T17:41Z","2025-10-03T15:43Z"]}},
"y":{"field":"p","type":"quantitative","scale":{"domain":[3.7842,4.8595],"nice":false,"zero":false}}
}
},
{
"data":{"name":"lightning"},
"mark":{"type":"point","filled":true,"opacity":1,"color":"#9c27b0","size":144,"shape":"M.25 -1L-.6 .15H-.05L-.25 1L.6 -.15H.05Z"},
"encoding":{
"x":{"field":"t","type":"temporal","scale":{"type":"utc","domain":["2025-09-09T17:41Z","2025-10-03T15:43Z"]}},
"y":{"field":"p","type":"quantitative","scale":{"domain":[3.7842,4.8595],"nice":false,"zero":false}}
}
}
]
}
]
}
